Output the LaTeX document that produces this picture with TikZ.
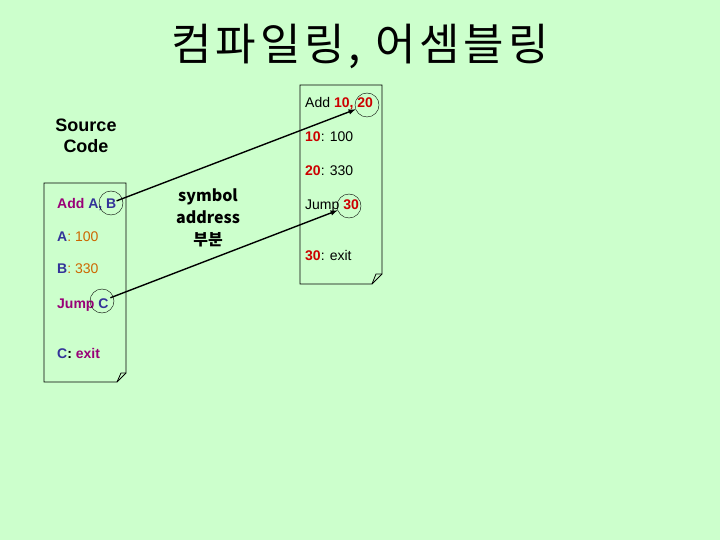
\documentclass[tikz,border=0pt]{standalone}
\usepackage{fontspec}
\setmainfont{Liberation Sans}
\newfontfamily\kofont{Noto Sans CJK KR}
\newfontfamily\kotitle{Noto Sans CJK KR}[LetterSpace=9]
\usetikzlibrary{positioning}
\definecolor{bg}{RGB}{204,255,204}
\definecolor{navy}{RGB}{51,51,153}
\definecolor{plum}{RGB}{153,0,120}
\definecolor{brown}{RGB}{204,102,0}
\definecolor{darkred}{RGB}{204,0,0}

\begin{document}
\begin{tikzpicture}[x=1pt,y=-1pt,
	txt/.style={anchor=base west,inner sep=0pt,font=\fontsize{14}{16}\selectfont},
	ring/.style={circle,draw,thin,minimum size=24pt,inner sep=0pt},
	page/.style={draw,line width=0.8pt}]
			\useasboundingbox[fill=bg] (0,0) rectangle (720,540);
			% title
			\node (title) at (360,46) {\kotitle\fontsize{44}{50}\selectfont 컴파일링, 어셈블링};
			\node[align=center,font=\bfseries\fontsize{18}{21}\selectfont] (src) at (86,136) {Source\\Code};
			% left page
			\draw [page] (44,183)--(126,183)--(126,373)--(117,382)--(44,382)--cycle;
			\draw [page] (117,382) .. controls (119,377) .. (121,373)--(126,373);
			\node[txt] (l1) at (57,208) {\bfseries\textcolor{plum}{Add} \textcolor{navy}{A, B}};
			\node[txt] (l2) at (57,241) {\textcolor{navy}{\bfseries A}\textcolor{brown}{: 100}};
			\node[txt] (l3) at (57,273) {\textcolor{navy}{\bfseries B}\textcolor{brown}{: 330}};
			\node[txt] (l4) at (57,308) {\bfseries\textcolor{plum}{Jump} \textcolor{navy}{C}};
			\node[txt] (l5) at (57,358) {\bfseries\textcolor{navy}{C}: \textcolor{plum}{exit}};
			\node[ring] (cB) at (111,203) {};
			\node[ring] (cC) at (102,301) {};
			% middle
			\node[align=center,font=\kofont\bfseries\fontsize{16}{22}\selectfont] (sym) at (208,218) {symbol\\address\\부분};
			% right page
			\draw [page] (300,85)--(382,85)--(382,274)--(372,284)--(300,284)--cycle;
			\draw [page] (372,284) .. controls (374,279) .. (376,274)--(382,274);
			\node[txt] (r1) at (305,108) {Add \textcolor{darkred}{\bfseries 10, 20}};
			\node[txt] (r2) at (305,142) {\textcolor{darkred}{\bfseries 10}: 100};
			\node[txt] (r3) at (305,176) {\textcolor{darkred}{\bfseries 20}: 330};
			\node[txt] (r4) at (305,210) {Jump \textcolor{darkred}{\bfseries 30}};
			\node[txt] (r5) at (305,260) {\textcolor{darkred}{\bfseries 30}: exit};
			\node[ring] (c20) at (367,105) {};
			\node[ring] (c30) at (349,206) {};
			% arrows
			\draw [->,>=latex,line width=1.4pt,shorten <=6pt] (cB.center)--(c20);
			\draw [->,>=latex,line width=1.4pt,shorten <=9pt] (cC.center)--(c30);
\end{tikzpicture}
\end{document}
